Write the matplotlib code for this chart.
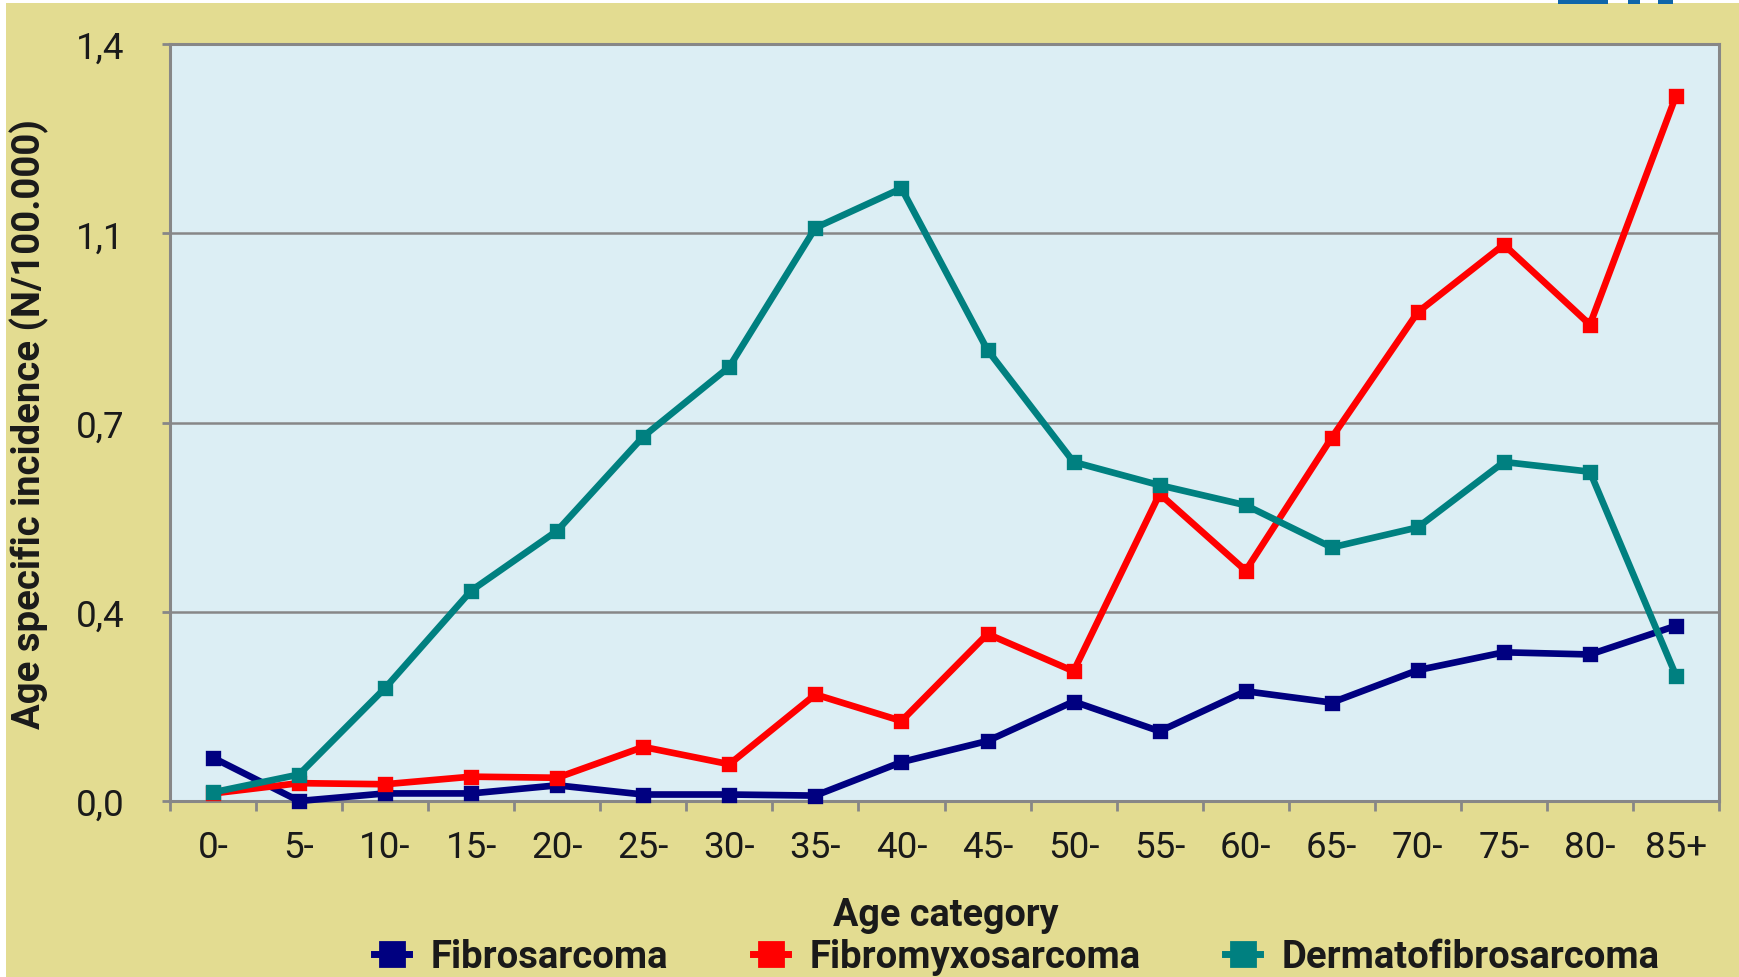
import matplotlib
matplotlib.use("Agg")
import matplotlib.pyplot as plt
from matplotlib.lines import Line2D
from matplotlib.patches import Rectangle

# ---------------- data ----------------
age_categories = ["0-", "5-", "10-", "15-", "20-", "25-", "30-", "35-", "40-",
                  "45-", "50-", "55-", "60-", "65-", "70-", "75-", "80-", "85+"]
fibrosarcoma = [0.080, 0.000, 0.014, 0.014, 0.029, 0.012, 0.012, 0.010, 0.072,
                0.111, 0.184, 0.129, 0.203, 0.182, 0.242, 0.275, 0.271, 0.324]
fibromyxosarcoma = [0.014, 0.033, 0.031, 0.045, 0.043, 0.100, 0.068, 0.197, 0.148,
                    0.309, 0.240, 0.568, 0.426, 0.672, 0.904, 1.029, 0.881, 1.304]
dermatofibrosarcoma = [0.016, 0.049, 0.209, 0.389, 0.500, 0.674, 0.803, 1.060, 1.133,
                       0.834, 0.627, 0.584, 0.547, 0.469, 0.506, 0.627, 0.609, 0.232]
series_names = ["Fibrosarcoma", "Fibromyxosarcoma", "Dermatofibrosarcoma"]
y_ticks = [0.0, 0.35, 0.70, 1.05, 1.40]
y_tick_labels = ["0,0", "0,4", "0,7", "1,1", "1,4"]
x_label = "Age category"
y_label = "Age specific incidence (N/100.000)"

# ---------------- style ----------------
FONT = "Roboto"
plt.rcParams["font.family"] = [FONT, "DejaVu Sans"]

colors = ["#000080", "#FF0000", "#008080"]
KHAKI = "#E3DC91"
PLOT_BG = "#DCEEF4"
GRAY = "#878787"
TXT = "#1A1A1A"

W, H = 1739, 978
fig = plt.figure(figsize=(W / 100, H / 100), dpi=100, facecolor="white")
fig.patches.append(Rectangle((6 / W, 0), 1 - 6 / W, 1 - 4 / H, transform=fig.transFigure,
                             facecolor=KHAKI, edgecolor="none", zorder=-10))
# partial logo at the top edge
for x0, x1 in [(1558, 1608), (1628, 1640), (1658, 1673)]:
    fig.patches.append(Rectangle((x0 / W, 1 - 5 / H), (x1 - x0) / W, 5 / H,
                                 transform=fig.transFigure, facecolor="#0F66AA",
                                 edgecolor="none", zorder=-5))

left, right, top, bottom = 170, 1719, 45, 802
ax = fig.add_axes([left / W, 1 - bottom / H, (right - left) / W, (bottom - top) / H])
ax.set_facecolor(PLOT_BG)

x = list(range(len(age_categories)))
for vals, c in zip([fibrosarcoma, fibromyxosarcoma, dermatofibrosarcoma], colors):
    ax.plot(x, vals, color=c, lw=4.8, marker="s", ms=8, mfc=c, mec=c, mew=2.4,
            solid_joinstyle="round", zorder=3, clip_on=False)

ax.set_xlim(-0.5, len(age_categories) - 0.5)
ax.set_ylim(0, 1.4)
ax.set_yticks(y_ticks, y_tick_labels)
ax.set_xticks(x, age_categories)
ax.set_xticks([i - 0.5 for i in range(len(age_categories) + 1)], minor=True)
ax.tick_params(axis="x", which="major", length=0, pad=20, labelsize=26.5, labelcolor=TXT)
ax.tick_params(axis="x", which="minor", length=7, width=2, color=GRAY, direction="out")
ax.tick_params(axis="y", which="major", length=6, width=2, color=GRAY, pad=27,
               labelsize=26.5, labelcolor=TXT)
ax.yaxis.grid(True, color=GRAY, lw=1.8, zorder=1)
ax.set_axisbelow(True)
for sp in ax.spines.values():
    sp.set_color(GRAY)
    sp.set_linewidth(2.2)

fig.text(946 / W, 1 - 916 / H, x_label, ha="center", va="center",
         fontsize=27.2, fontweight="bold", color=TXT)
fig.text(29 / W, 1 - 424 / H, y_label, ha="center", va="center", rotation=90,
         fontsize=27.5, fontweight="bold", color=TXT)

# legend entries placed individually
handle_left = [374, 753, 1225]
for name, c, hx in zip(series_names, colors, handle_left):
    h = Line2D([], [], color=c, lw=5, marker="s", ms=17, mfc=c, mec=c, mew=2,
               solid_joinstyle="round")
    fig.legend([h], [name], loc="center left", bbox_to_anchor=(hx / W, 1 - 958 / H),
               frameon=False, borderpad=0, borderaxespad=0, handlelength=0.92,
               handletextpad=0.55, prop={"family": [FONT, "DejaVu Sans"],
                                         "weight": "bold", "size": 27.5},
               labelcolor=TXT)

fig.savefig("out.png", dpi=100, facecolor=fig.get_facecolor())
